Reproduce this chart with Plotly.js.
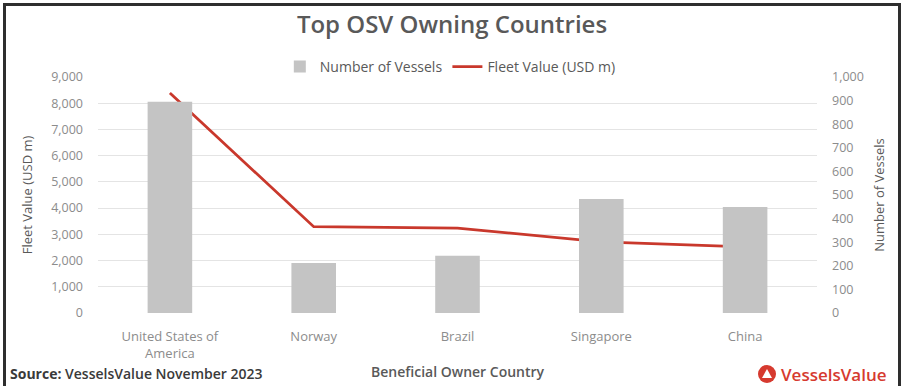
<!DOCTYPE html>
<html>
<head>
<meta charset="utf-8">
<script src="https://cdn.plot.ly/plotly-3.0.1.min.js"></script>
<style>
html,body{margin:0;padding:0;background:#fff;}
#wrap{position:relative;width:904px;height:386px;}
#chart{width:904px;height:386px;}
#frame{position:absolute;left:3px;top:3px;width:892px;height:390px;border:3px solid #2e2e2e;border-bottom:none;pointer-events:none;}
</style>
</head>
<body>
<div id="wrap"><div id="chart"></div><div id="frame"></div></div>
<script>
const countries = ["United States of<br>America", "Norway", "Brazil", "Singapore", "China"];
const vessels = [895, 212, 243, 483, 449];
const fleetValue = [8390, 3290, 3240, 2710, 2520];
const leftTicks = [0,1000,2000,3000,4000,5000,6000,7000,8000,9000];

const FONT = "'Open Sans', 'DejaVu Sans', sans-serif";
const L = 98, R = 817, T = 77, B = 313;
const px = x => (x - L) / (R - L);
const py = y => (B - y) / (B - T);

const traces = [
  {type:'bar', name:'Number of Vessels', x:countries, y:vessels, yaxis:'y2',
   marker:{color:'#c4c4c4'}, hoverinfo:'skip'},
  {type:'scatter', mode:'lines', name:'Fleet Value (USD m)', x:countries, y:fleetValue, yaxis:'y',
   line:{color:'#c9382c', width:2.8}, hoverinfo:'skip'}
];

const cx = 767, cy = 374, r = 9;
const shapes = [
  {type:'circle', xref:'paper', yref:'paper', x0:px(cx-r), x1:px(cx+r), y0:py(cy+r), y1:py(cy-r),
   fillcolor:'#d63a2f', line:{width:0}},
  {type:'path', xref:'paper', yref:'paper',
   path:`M ${px(cx-5)} ${py(cy+4)} L ${px(cx+5)} ${py(cy+4)} L ${px(cx)} ${py(cy-5)} Z`,
   fillcolor:'#ffffff', line:{width:0}}
];

const layout = {
  width:904, height:386,
  margin:{l:L, r:904-R, t:T, b:386-B, pad:0},
  paper_bgcolor:'#ffffff', plot_bgcolor:'#ffffff',
  font:{family:FONT, color:'#8c8c8c', size:12},
  title:{text:'Top OSV Owning Countries', x:0.5, xanchor:'center', y:0.935, yanchor:'middle',
         font:{family:FONT, size:24, color:'#595959', weight:600}},
  showlegend:true,
  legend:{orientation:'h', x:0.49, xanchor:'center', y:py(67), yanchor:'middle',
          font:{family:FONT, size:14, color:'#595959'}, itemwidth:30, traceorder:'normal'},
  bargap:0.69,
  xaxis:{type:'category', showgrid:false, zeroline:false, showline:false, ticks:'',
         ticklabelstandoff:14,
         tickfont:{family:FONT, size:13, color:'#8c8c8c'},
         title:{text:'Beneficial Owner Country', standoff:6,
                font:{family:FONT, size:14, color:'#595959', weight:600}}},
  yaxis:{range:[0,9000], tickvals:leftTicks, tickformat:',d', showgrid:true, gridcolor:'#e4e4e4', gridwidth:1,
         zeroline:false, showline:false, ticks:'', ticklabelstandoff:14,
         tickfont:{family:FONT, size:12.5, color:'#8c8c8c'},
         title:{text:'Fleet Value (USD m)', standoff:15, font:{family:FONT, size:13, color:'#595959'}}},
  yaxis2:{range:[0,1000], dtick:100, tickformat:',d', overlaying:'y', side:'right', showgrid:false,
          zeroline:false, showline:false, ticks:'', ticklabelstandoff:14,
          tickfont:{family:FONT, size:12.5, color:'#8c8c8c'},
          title:{text:'Number of Vessels', standoff:12, font:{family:FONT, size:13, color:'#595959'}}},
  shapes:shapes,
  annotations:[
    {xref:'paper', yref:'paper', x:px(8), y:py(373), xanchor:'left', yanchor:'middle', showarrow:false,
     text:'<b>Source:</b> VesselsValue November 2023', font:{family:FONT, size:14, color:'#3a3a3a', weight:600}},
    {xref:'paper', yref:'paper', x:px(779), y:py(374), xanchor:'left', yanchor:'middle', showarrow:false,
     text:'VesselsValue', font:{family:FONT, size:17, color:'#d63a2f', weight:600}}
  ]
};

Plotly.newPlot('chart', traces, layout, {displayModeBar:false, staticPlot:true});
</script>
</body>
</html>
